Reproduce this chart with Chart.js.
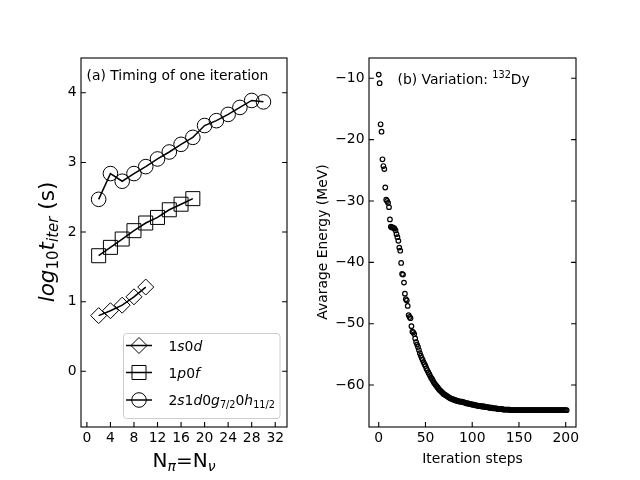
<!DOCTYPE html>
<html>
<head>
<meta charset="utf-8">
<script src="https://cdn.jsdelivr.net/npm/chart.js@4.4.1/dist/chart.umd.min.js"></script>
<style>
  body { margin: 0; background: #fff; }
  canvas { position: absolute; left: 0; top: 0; }
</style>
</head>
<body>
<canvas id="left" width="640" height="480"></canvas>
<canvas id="right" width="640" height="480"></canvas>
<script>
// (a) log10 of the time for one iteration, per model space
const n1s0d = [2, 4, 6, 8, 10];
const t1s0d = [0.80, 0.87, 0.95, 1.07, 1.21];
const n1p0f = [2, 4, 6, 8, 10, 12, 14, 16, 18];
const t1p0f = [1.66, 1.78, 1.90, 2.02, 2.13, 2.21, 2.32, 2.40, 2.48];
const n2s1d = [2, 4, 6, 8, 10, 12, 14, 16, 18, 20, 22, 24, 26, 28, 30];
const t2s1d = [2.47, 2.84, 2.73, 2.84, 2.94, 3.05, 3.15, 3.26, 3.36, 3.53, 3.60, 3.69, 3.79, 3.89, 3.87];

// (b) energy of 132Dy against iteration step (step = index)
const energy = [
  -9.4, -10.8, -17.5, -18.7, -23.2, -24.3, -24.8, -27.8, -29.8, -30.0,
  -30.3, -31.0, -33.0, -34.2, -34.3, -34.3, -34.4, -34.5, -34.8, -35.4,
  -35.9, -36.5, -37.6, -38.1, -40.1, -41.9, -42.0, -43.3, -45.1, -46.0,
  -46.2, -47.1, -48.6, -48.9, -49.1, -50.4, -51.3, -51.4, -51.7, -52.4,
  -53.0, -53.4, -53.8, -54.3, -54.8, -55.2, -55.6, -55.9, -56.3, -56.6,
  -56.9, -57.3, -57.6, -57.9, -58.2, -58.5, -58.8, -59.0, -59.3, -59.6,
  -59.8, -60.0, -60.2, -60.4, -60.6, -60.8, -60.9, -61.1, -61.2, -61.4,
  -61.5, -61.6, -61.7, -61.8, -61.9, -62.0, -62.1, -62.2, -62.2, -62.3,
  -62.4, -62.4, -62.5, -62.5, -62.6, -62.6, -62.7, -62.7, -62.7, -62.7,
  -62.8, -62.8, -62.9, -62.9, -63.0, -63.0, -63.0, -63.1, -63.1, -63.1,
  -63.2, -63.2, -63.2, -63.3, -63.3, -63.3, -63.4, -63.4, -63.4, -63.4,
  -63.5, -63.5, -63.5, -63.5, -63.6, -63.6, -63.6, -63.6, -63.7, -63.7,
  -63.7, -63.7, -63.8, -63.8, -63.8, -63.8, -63.8, -63.9, -63.9, -63.9,
  -63.9, -63.9, -63.9, -64.0, -64.0, -64.0, -64.0, -64.0, -64.0, -64.0,
  -64.0, -64.1, -64.1, -64.1, -64.1, -64.1, -64.1, -64.1, -64.1, -64.1,
  -64.1, -64.1, -64.1, -64.1, -64.1, -64.1, -64.1, -64.1, -64.1, -64.1,
  -64.1, -64.1, -64.1, -64.1, -64.1, -64.1, -64.1, -64.1, -64.1, -64.1,
  -64.1, -64.1, -64.1, -64.1, -64.1, -64.1, -64.1, -64.1, -64.1, -64.1,
  -64.1, -64.1, -64.1, -64.1, -64.1, -64.1, -64.1, -64.1, -64.1, -64.1,
  -64.1, -64.1, -64.1, -64.1, -64.1, -64.1, -64.1, -64.1, -64.1, -64.1,
  -64.1, -64.1
];
const steps = energy.map((e, i) => i);

const xTicksA = [0, 4, 8, 12, 16, 20, 24, 28, 32];
const yTicksA = [0, 1, 2, 3, 4];
const xTicksB = [0, 50, 100, 150, 200];
const yTicksB = [-10, -20, -30, -40, -50, -60];

Chart.defaults.font.family = 'DejaVu Sans';
Chart.defaults.color = '#000';

const FAM = '"DejaVu Sans"';
const tickFont = { family: 'DejaVu Sans', size: 13.9 };

// parts: [text, flags]  i = italic, s = subscript, u = superscript
function partFont(flags, size) {
  const small = flags.includes('s') || flags.includes('u');
  return (flags.includes('i') ? 'italic ' : '') + (small ? size * 0.7 : size) + 'px ' + FAM;
}
function drawRich(ctx, parts, x, y, size, align) {
  let w = 0;
  parts.forEach(p => { ctx.font = partFont(p[1], size); w += ctx.measureText(p[0]).width; });
  let cx = align === 'center' ? x - w / 2 : x;
  ctx.textAlign = 'left';
  ctx.textBaseline = 'alphabetic';
  parts.forEach(p => {
    ctx.font = partFont(p[1], size);
    let dy = 0;
    if (p[1].includes('s')) dy = size * 0.2;
    if (p[1].includes('u')) dy = -size * 0.4;
    ctx.fillText(p[0], cx, y + dy);
    cx += ctx.measureText(p[0]).width;
  });
}
function drawRotated(ctx, parts, bx, cy, size) {
  ctx.save();
  ctx.translate(bx, cy);
  ctx.rotate(-Math.PI / 2);
  drawRich(ctx, parts, 0, 0, size, 'center');
  ctx.restore();
}

function fixedTicks(list) {
  return s => { s.ticks = list.map(v => ({ value: v })); };
}
function minus(v) { return String(v).replace('-', '\u2212'); }

// frame on all four sides and inward ticks on left, right and bottom
const frame = {
  id: 'frame',
  afterDraw(chart) {
    const { ctx, chartArea: a, scales: { x, y } } = chart;
    ctx.save();
    ctx.strokeStyle = '#000';
    ctx.lineWidth = 1.1;
    ctx.beginPath();
    x.ticks.forEach(t => {
      const px = x.getPixelForValue(t.value);
      ctx.moveTo(px, a.bottom); ctx.lineTo(px, a.bottom - 4.9);
    });
    y.ticks.forEach(t => {
      const py = y.getPixelForValue(t.value);
      ctx.moveTo(a.left, py); ctx.lineTo(a.left + 4.9, py);
      ctx.moveTo(a.right, py); ctx.lineTo(a.right - 4.9, py);
    });
    ctx.stroke();
    ctx.strokeRect(a.left, a.top, a.right - a.left, a.bottom - a.top);
    ctx.restore();
  }
};

const series = [
  { label: [['1', ''], ['s', 'i'], ['0', ''], ['d', 'i']], xs: n1s0d, ys: t1s0d, style: 'rectRot', r: 8 },
  { label: [['1', ''], ['p', 'i'], ['0', ''], ['f', 'i']], xs: n1p0f, ys: t1p0f, style: 'rect', r: 9.9 },
  { label: [['2', ''], ['s', 'i'], ['1', ''], ['d', 'i'], ['0', ''], ['g', 'i'], ['7/2', 's'], ['0', ''], ['h', 'i'], ['11/2', 's']],
    xs: n2s1d, ys: t2s1d, style: 'circle', r: 7.3 }
];

const leftText = {
  id: 'leftText',
  afterDraw(chart) {
    const ctx = chart.ctx;
    ctx.save();
    ctx.fillStyle = '#000';
    drawRich(ctx, [['(a) Timing of one iteration', '']], 86.5, 80, 13.9, 'left');
    drawRich(ctx, [['N', ''], ['\u03c0', 'si'], ['=N', ''], ['\u03bd', 'si']], 184, 466.5, 20, 'center');
    drawRotated(ctx, [['log', 'i'], ['10', 's'], ['t', 'i'], ['iter', 'si'], [' (s)', '']], 54, 242, 21.5);

    // legend box
    const bx = 123.5, by = 333.5, bw = 156.5, bh = 85;
    ctx.beginPath();
    ctx.roundRect(bx, by, bw, bh, 3);
    ctx.fillStyle = 'rgba(255,255,255,0.8)';
    ctx.fill();
    ctx.strokeStyle = '#cccccc';
    ctx.lineWidth = 1;
    ctx.stroke();
    const rows = [345.5, 372.5, 400];
    series.forEach((s, i) => {
      const yy = rows[i];
      ctx.strokeStyle = '#000';
      ctx.lineWidth = 1.5;
      ctx.beginPath();
      ctx.moveTo(126, yy); ctx.lineTo(152, yy);
      ctx.stroke();
      ctx.lineWidth = 1;
      ctx.fillStyle = 'rgba(0,0,0,0)';
      Chart.helpers.drawPoint(ctx, { pointStyle: s.style, radius: s.r, borderWidth: 1, rotation: 0 }, 139, yy);
      ctx.fillStyle = '#000';
      drawRich(ctx, s.label, 168.5, yy + 5, 13.9, 'left');
    });
    ctx.restore();
  }
};

const rightText = {
  id: 'rightText',
  afterDraw(chart) {
    const ctx = chart.ctx;
    ctx.save();
    ctx.fillStyle = '#000';
    drawRich(ctx, [['(b) Variation: ', ''], ['132', 'u'], ['Dy', '']], 397.5, 84, 13.9, 'left');
    drawRich(ctx, [['Iteration steps', '']], 472.5, 463, 13.9, 'center');
    drawRotated(ctx, [['Avarage Energy (MeV)', '']], 327, 242, 13.9);
    ctx.restore();
  }
};

new Chart(document.getElementById('left'), {
  type: 'scatter',
  data: {
    datasets: series.map(s => ({
      data: s.xs.map((v, i) => ({ x: v, y: s.ys[i] })),
      showLine: true,
      borderColor: '#000',
      borderWidth: 1.5,
      pointStyle: s.style,
      pointRadius: s.r,
      pointBorderWidth: 1,
      pointBorderColor: '#000',
      pointBackgroundColor: 'rgba(0,0,0,0)'
    }))
  },
  options: {
    responsive: false,
    animation: false,
    devicePixelRatio: 1,
    layout: { padding: { left: 0, top: 58, right: 353, bottom: 0 } },
    plugins: { legend: { display: false }, tooltip: { enabled: false } },
    scales: {
      x: {
        type: 'linear', min: -1, max: 34,
        afterBuildTicks: fixedTicks(xTicksA),
        afterFit: s => { s.height = 53; },
        grid: { display: false, drawTicks: false },
        border: { display: false },
        ticks: { font: tickFont, color: '#000', padding: 3, maxRotation: 0 }
      },
      y: {
        type: 'linear', min: -0.8, max: 4.5,
        afterBuildTicks: fixedTicks(yTicksA),
        afterFit: s => { s.width = 81; },
        grid: { display: false, drawTicks: false },
        border: { display: false },
        ticks: { font: tickFont, color: '#000', padding: 4.5 }
      }
    }
  },
  plugins: [frame, leftText]
});

new Chart(document.getElementById('right'), {
  type: 'scatter',
  data: {
    datasets: [{
      data: steps.map((s, i) => ({ x: s, y: energy[i] })),
      pointStyle: 'circle',
      pointRadius: 2.3,
      pointBorderWidth: 1.2,
      pointBorderColor: '#000',
      pointBackgroundColor: 'rgba(0,0,0,0)'
    }]
  },
  options: {
    responsive: false,
    animation: false,
    devicePixelRatio: 1,
    layout: { padding: { left: 320, top: 58, right: 64, bottom: 0 } },
    plugins: { legend: { display: false }, tooltip: { enabled: false } },
    scales: {
      x: {
        type: 'linear', min: -10.4, max: 211,
        afterBuildTicks: fixedTicks(xTicksB),
        afterFit: s => { s.height = 53; },
        grid: { display: false, drawTicks: false },
        border: { display: false },
        ticks: { font: tickFont, color: '#000', padding: 3, maxRotation: 0 }
      },
      y: {
        type: 'linear', min: -66.84, max: -6.69,
        afterBuildTicks: fixedTicks(yTicksB),
        afterFit: s => { s.width = 49; },
        grid: { display: false, drawTicks: false },
        border: { display: false },
        ticks: { font: tickFont, color: '#000', padding: 4.5, callback: v => minus(v) }
      }
    }
  },
  plugins: [frame, rightText]
});
</script>
</body>
</html>
